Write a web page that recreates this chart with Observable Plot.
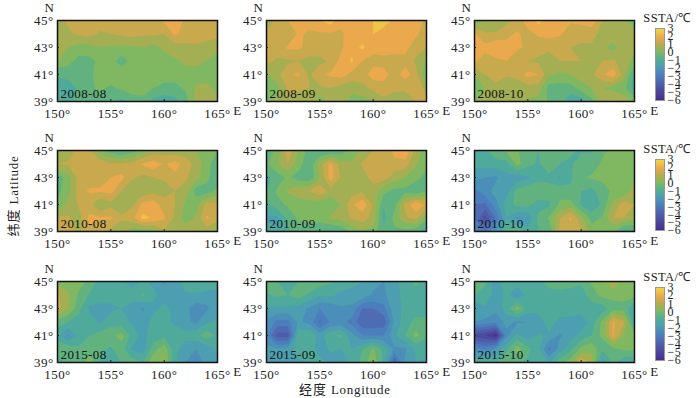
<!DOCTYPE html>
<html>
<head>
<meta charset="utf-8">
<script src="https://cdn.jsdelivr.net/npm/d3@7"></script>
<script src="https://cdn.jsdelivr.net/npm/@observablehq/plot@0.6"></script>
<style>
html,body{margin:0;padding:0;background:#fff;}
#chart{position:relative;width:700px;height:398px;overflow:hidden;font-family:"Liberation Serif",serif;}
#chart svg{position:absolute;overflow:visible;background:transparent;letter-spacing:.4px;}
.lab{position:absolute;font-size:13px;line-height:14px;letter-spacing:.7px;color:#222;white-space:nowrap;}
.lab .cjk{font-family:"Noto Sans CJK SC";letter-spacing:1px;display:inline-block;line-height:14px;height:14px;}
</style>
</head>
<body>
<div id="chart"></div>
<script>
// SSTA grids: rows are latitudes 45..39, columns longitudes 150..165
const lons = d3.range(150,166);
const lats = [45,44,43,42,41,40,39];
const grid200808 = [
 1.1,1.3,1.4,1.5,1.5,1.6,1.6,1.6,1.6,1.7,1.9,2.1,1.7,1.5,1.5,1.5,
 1.2,1.1,1.3,1.4,1.1,1.2,1.3,1.4,1.3,1.3,1.2,1.9,1.6,1.5,1.4,1.3,
 .6,.6,.3,.4,.6,.5,.5,.5,.6,.4,.7,.9,1.0,1.1,1.0,1.0,
 .6,.2,-.2,-.2,.2,.2,-.3,.2,.6,.3,.4,.5,.7,.8,.6,-.1,
 -.5,-.4,-.3,-.1,.2,.3,.4,.3,.3,.4,.3,.3,.4,.3,.3,.2,
 -1,-.9,-.5,-.1,.1,-.1,.1,.3,.3,0,-.2,-.2,.1,.7,.8,.4,
 -1,-.7,-.5,-.2,-.3,-.5,-.8,-.3,-.2,-.8,-1,-.8,-.3,.8,.9,.7];
const grid200809 = [
 .6,1.5,1.8,1.9,2.0,2.4,2.7,2.0,1.9,2.1,2.4,2.6,2.3,2.0,2.0,1.7,
 1.5,1.4,1.3,1.9,1.7,1.7,1.7,1.7,2.1,2.1,2.4,2.2,2.1,2.1,1.9,1.5,
 1.5,1.5,1.9,1.9,1.6,1.6,1.6,1.7,2.2,2.5,2.0,2.1,2.0,2.0,1.5,1.2,
 1.4,1.1,1.1,1.2,1.0,1.0,1.3,2.0,2.5,1.8,1.6,1.6,1.6,1.6,1.1,.5,
 .5,1.0,1.7,1.9,1.1,1.7,1.9,2.1,1.6,1.5,2.1,2.0,1.5,2.1,1.5,-.1,
 .2,.4,1.3,1.3,1.2,1.1,1.2,.9,.8,1.0,1.4,1.6,1.5,1.3,1.6,1.0,
 .6,.7,1.1,.9,.8,.3,.8,1.0,.3,.4,.5,1.0,.4,.9,1.2,1.3];
const grid200810 = [
 .3,.5,.7,1.0,1.5,2.1,2.6,2.1,1.9,1.9,2.0,2.2,1.2,.9,.6,.5,
 1.9,1.3,1.3,1.6,1.9,1.6,1.9,2.0,1.9,1.4,1.4,1.4,1.0,1.0,.9,.7,
 2.0,2.0,2.4,2.1,1.9,1.7,1.4,1.4,1.3,1.2,1.1,1.1,.7,.4,.9,.8,
 1.9,1.5,1.6,1.8,1.4,1.2,1.1,.8,1.2,1.2,1.2,1.0,1.2,1.3,.9,.4,
 .6,1.2,1.5,1.3,1.4,2.0,1.8,.7,.5,.6,.9,1.1,1.7,2.2,.9,-.8,
 .3,.6,1.0,.7,.8,1.0,.9,-.3,-.3,-.3,.3,.6,.6,.4,.2,-.9,
 .5,.8,.9,1.3,.9,.5,.4,-.1,-.4,-1,-1,-.2,1.0,1.3,1.0,.4];
const grid201008 = [
 .7,.9,1.4,1.2,.2,-.3,-.7,-.3,.3,.8,.9,.8,.9,.6,.3,0,
 1.2,1.3,1.5,1.6,1.7,1.3,1.3,1.5,1.9,2.2,1.7,2.1,1.5,1.0,.3,-.5,
 -.4,.4,1.4,1.5,1.5,1.8,2.0,1.3,1.0,1.2,1.3,1.6,1.3,.8,.2,-.6,
 -.2,.4,1.5,1.9,1.9,2.0,1.2,.7,.8,1.0,.9,1.2,.9,-.3,-.3,.2,
 .1,.8,1.3,1.4,.6,1.0,.9,1.1,2.0,2.1,1.5,1.2,.5,.4,1.4,1.4,
 1.3,1.3,.9,2.0,1.9,1.9,1.3,1.6,2.6,2.3,1.9,1.1,.3,.7,1.9,1.5,
 1.4,1.4,1.1,1.6,1.3,1.0,.8,.2,0,.3,1.1,1.2,1.0,.7,.9,.2];
const grid201009 = [
 -.6,.3,1.6,.6,-.3,-.7,-.7,-.4,.3,.7,1.2,1.4,2.0,2.4,1.0,.2,
 -.1,.5,1.2,.3,-.5,.9,2.0,.9,.7,1.3,1.5,1.7,1.6,1.5,.7,.1,
 -.8,-.3,.1,-.3,-.5,.6,2.1,1.1,.6,.9,1.5,1.5,.9,.6,.2,-.2,
 -.6,.1,.7,1.0,1.2,1.7,1.0,.6,.9,1.1,.9,.2,-.2,-.2,-.6,-.1,
 -.7,-.2,.1,.2,.3,.2,.1,.6,1.7,2.2,1.1,-.6,-.2,1.4,2.3,1.7,
 -1.3,-1.4,-.4,.1,.2,.3,.7,.8,1.3,1.5,1.0,-.8,.2,1.1,1.4,.2,
 -.8,-1.1,-.7,-.3,-.4,-.6,-.8,-.5,.1,.5,.3,-.5,-.1,-.2,-.5,-.9];
const grid201010 = [
 -.9,-.7,-.1,.1,.1,-.6,-.6,-.6,-.6,-.5,-.7,-.7,-.1,.1,.1,.1,
 -1,-1,-.9,-.8,.2,-.4,-.7,-.1,-.6,-.7,-.2,-.3,.1,.1,.1,.1,
 -1.6,-1.8,-1.9,-1.4,-1.5,-1.3,-.8,-.8,-1.3,-.7,-.1,.1,.1,.1,.1,.6,
 -2.6,-2,-1.6,-1.4,-.4,-.1,-.1,-.3,-.2,-.5,-.6,-.8,-.2,.1,.1,.9,
 -3.0,-3.1,-2,-.9,-.4,-.4,-.9,-.7,.1,.3,-.7,-1,-.5,.8,1.5,1.2,
 -3.0,-4.5,-2.9,-1.2,-1.9,-1.7,-.4,.1,1.2,1.9,.8,-.3,.1,1.2,1.2,.7,
 -2.6,-3.0,-1.8,-.5,-.1,-.9,-.6,-.4,1.3,1.5,1.3,.4,.1,.1,-.9,-.7];
const grid201508 = [
 .4,.3,.2,-.1,-.9,-1,-1.1,-1.4,-1.1,-1.3,-1.9,-1.5,-.9,-.6,-.6,-.9,
 1.3,.7,-.1,-.7,-.7,-1,-.9,-1,-.5,-1.1,-1.4,-1.4,-1.3,-1.3,-1.5,-1.4,
 1.5,.6,-.4,-1.3,-1.6,-1.3,-1.2,-1.4,-1.9,-1.3,-1.1,-1.3,-1.6,-2.2,-1.9,-1.4,
 -.3,-.6,-.9,-.9,-1.3,-.9,-.9,-1.3,-1.5,-1,-1,-1.3,-1.7,-1.9,-1.3,-1.1,
 -1,-1.9,-1,-.6,-.3,-.1,.2,-.8,-1.4,-.9,-.8,-.9,-.9,-.8,-.2,-.8,
 -.1,-.1,-.5,-.2,-.5,-.7,-.3,-1.3,-1.5,-.3,.4,-1,-1.6,-1.8,-1.6,-1.1,
 -.8,-.6,-.4,.3,-.7,-1,-.6,-.3,-.6,.5,.7,-1,-1.8,-2.1,-1.6,-1.2];
const grid201509 = [
 .1,-.6,-1.2,-.6,-.1,-.3,-.5,-1,-1.1,-1.2,-1.6,-1.8,-1.4,-.9,-.4,-.8,
 -.7,-.5,-.6,-.3,-.7,-1.1,-1.1,-1.3,-1.3,-1.4,-1.9,-1.9,-1.4,-1,-.9,-.9,
 -1.3,-1.3,-1.3,-1.5,-1.9,-2.4,-2.2,-1.9,-2.0,-3.0,-3.0,-2.6,-1.4,-1.1,-1,-1,
 -1.9,-2.6,-2.6,-1.7,-2,-3.1,-2.3,-2.2,-2.6,-3.5,-3.5,-3.4,-1.6,-.9,-.4,-.4,
 -2.2,-3.9,-3.9,-.8,-.6,-1.5,-.7,-.5,-1.6,-2.4,-2.4,-2.4,-1.3,-.6,.2,-.5,
 -1.6,-1.7,-1.5,-.9,-.9,-1.5,-1.1,-1.2,-1.2,-.6,.1,-.8,-1.9,-1.9,-1.1,-1,
 -1.2,-1.2,-1.2,-1.3,-1.2,-.9,-1.5,-1.5,-1.1,-.4,.5,-.8,-3.6,-1.7,-1.2,-1.3];
const grid201510 = [
 .2,-.5,-1.5,-.8,-.8,-.7,-.7,-.4,-.3,-.4,-.5,.1,.5,1.2,.2,.2,
 -.6,-.8,-1.5,-1,-1.9,-.9,-.9,-.8,-.8,-.8,-.9,-.3,.2,.2,.2,.2,
 -1.8,-1.3,-1.6,-.9,.3,-.9,-1,-.9,-.8,-.7,-.8,-.9,-.9,-.3,-.2,-1.3,
 -1.8,-2,-2.2,-1.6,-1.9,-1.8,-1.5,-.9,-1.4,-1.6,-1.7,-.9,.2,1.9,1.3,-1.2,
 -4.5,-4.8,-5.6,-2,-1,-1.6,-1.1,-1.3,-1.9,-1.5,-1,-.6,.2,1.9,.6,.2,
 -2,-2.5,-1.8,-.7,.3,-.4,-1.1,-2.6,-1.5,-.8,.2,.5,-.5,-.1,.1,.1,
 -.6,-.6,-.6,-.3,-.5,-.7,-1,-1.2,-.2,.3,1.8,.8,-1.6,-.5,-1,-1.2];

const panelNames = ["2008-08","2008-09","2008-10","2010-08","2010-09","2010-10","2015-08","2015-09","2015-10"];
const panelGrids = [grid200808,grid200809,grid200810,grid201008,grid201009,grid201010,grid201508,grid201509,grid201510];
const levels = [-6,-5.4,-4.8,-4.2,-3.6,-3,-2.4,-1.8,-1.2,-.6,0,.6,1.2,1.8,2.4,3];
const levelColors = ["#45318c","#4a3f96","#4d4d9f","#505ca9","#4f6cb3","#4c7dbc","#4b8eba","#4d9eb0","#50aa9c","#62b280","#80b862","#a3af52","#c8a94e","#eba94d","#eec447","#e8e03c"];
const xTicks = [150,155,160,165];
const yTicks = [39,41,43,45];
const barTicks = [3,2,1,0,-1,-2,-3,-4,-5,-6];
const barSteps = d3.range(-6,3,0.125);

const font = "Liberation Serif";
const colorScale = {type:"linear",domain:levels,range:levelColors};
const lefts = [57,266,474], tops = [20,150,281];
const root = document.getElementById("chart");
const M = {l:34,r:34,t:18,b:22};

panelNames.forEach((name,i)=>{
  const p = Plot.plot({
    width:160+M.l+M.r,height:81+M.t+M.b,
    marginLeft:M.l,marginRight:M.r,marginTop:M.t,marginBottom:M.b,
    style:{fontFamily:font,fontSize:"13px",color:"#222",background:"transparent"},
    x:{domain:[150,165],label:null},y:{domain:[39,45],label:null},color:colorScale,
    marks:[
      Plot.contour(panelGrids[i],{
        x1:149.5,x2:165.5,y1:45.5,y2:38.5,width:lons.length,height:lats.length,
        fill:Plot.identity,thresholds:levels.slice(0,-1),clip:true,stroke:"none"
      }),
      Plot.frame({stroke:"#111",strokeWidth:1.5}),
      Plot.axisX({ticks:xTicks,tickFormat:d=>d+"°",tickSize:-2,tickPadding:9,fontSize:13,label:null}),
      Plot.axisY({ticks:yTicks,tickFormat:d=>d+"°",tickSize:-2,tickPadding:6,fontSize:13,label:null}),
      Plot.text(["N"],{frameAnchor:"top-left",dx:-8,dy:-13,textAnchor:"middle",lineAnchor:"middle",fontSize:13,fill:"#222",text:d=>d}),
      Plot.text(["E"],{frameAnchor:"bottom-right",dx:20,dy:9,textAnchor:"middle",lineAnchor:"middle",fontSize:13,fill:"#222",text:d=>d}),
      Plot.text([name],{frameAnchor:"bottom-left",dx:3,dy:-4,fontSize:13,fill:"#111",text:d=>d})
    ]
  });
  p.style.left=(lefts[i%3]-M.l)+"px";
  p.style.top=(tops[Math.floor(i/3)]-M.t)+"px";
  root.appendChild(p);
});

[[28,100],[159,230],[287,360]].forEach(([y0,y1])=>{
  const mt=14,mb=6,ml=6,mr=34;
  const p = Plot.plot({
    width:9+ml+mr,height:(y1-y0)+mt+mb,
    marginLeft:ml,marginRight:mr,marginTop:mt,marginBottom:mb,
    style:{fontFamily:font,fontSize:"13px",color:"#222",background:"transparent"},
    x:{domain:[0,1],axis:null},y:{domain:[-6,3]},color:colorScale,
    marks:[
      Plot.rect(barSteps,{x1:0,x2:1,y1:d=>d,y2:d=>d+0.125,fill:d=>d,shapeRendering:"crispEdges"}),
      Plot.frame({stroke:"#999",strokeWidth:1}),
      Plot.axisY({anchor:"right",ticks:barTicks,tickSize:0,tickPadding:3,fontSize:12,label:null,
        tickFormat:d=>d<0?"−"+(-d):String(d)}),
      Plot.text(["SSTA/℃"],{frameAnchor:"top",dy:-15,dx:7,fontSize:12.5,fill:"#222",text:d=>d,lineAnchor:"top"})
    ]
  });
  p.style.left=(655-ml)+"px";
  p.style.top=(y0-mt)+"px";
  root.appendChild(p);
});

const xl=document.createElement("div");xl.className="lab";
xl.innerHTML='<span class="cjk">经度</span> Longitude';xl.style.left="299px";xl.style.top="382px";xl.style.height="15px";root.appendChild(xl);
const yl=document.createElement("div");yl.className="lab";
yl.innerHTML='<span class="cjk">纬度</span> Latitude';
yl.style.left="13px";yl.style.top="196px";yl.style.transform="translate(-50%,-50%) rotate(-90deg)";root.appendChild(yl);
</script>
</body>
</html>
